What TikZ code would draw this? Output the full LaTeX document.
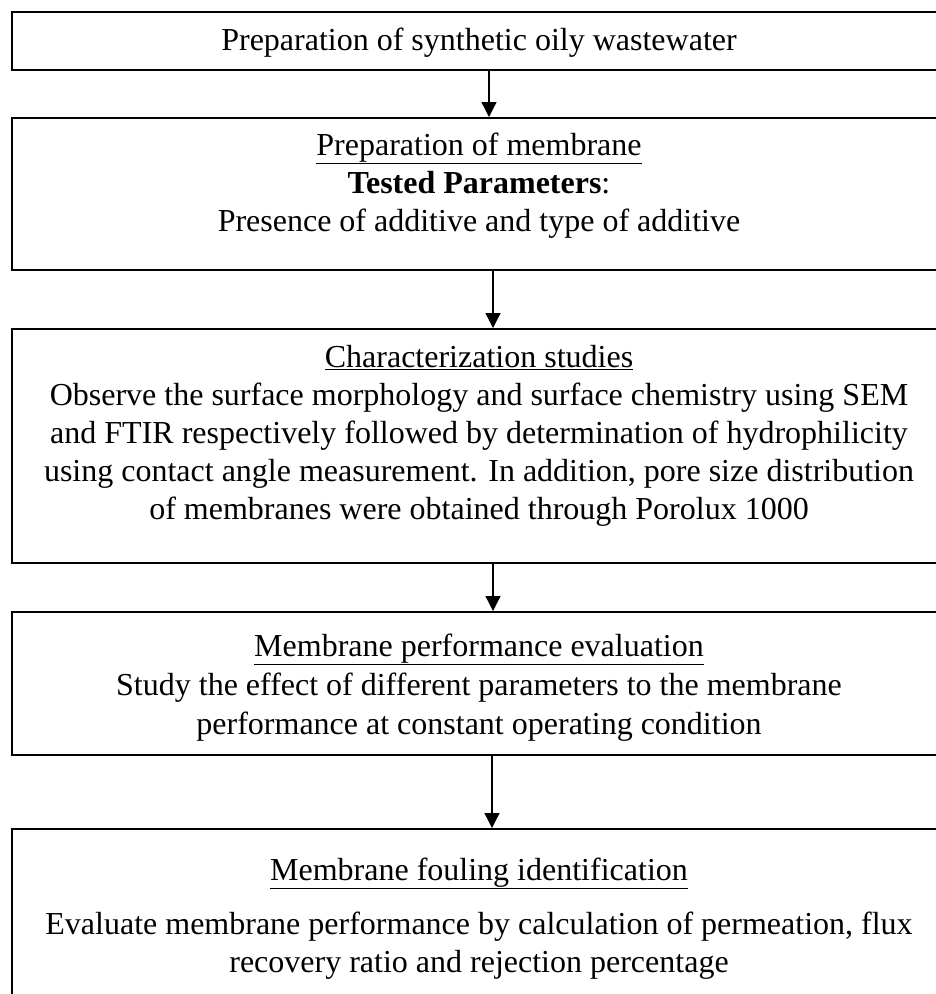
\documentclass[tikz,border=0pt]{standalone}
\usepackage{fontspec}
\setmainfont{Liberation Serif}
\usetikzlibrary{arrows.meta}
\begin{document}
\begin{tikzpicture}[x=1pt,y=1pt,
  box/.style={draw=black, line width=1.6pt, rectangle, anchor=north west, minimum width=949pt, inner sep=0pt},
  txt/.style={anchor=base, inner sep=0pt, font=\fontsize{32}{38}\selectfont},
  arr/.style={draw=black, line width=1.3pt, -{Triangle[length=15pt,width=15pt]}}]
\useasboundingbox (0,0) rectangle (936,-994);
\clip (0,0) rectangle (936,-994);
% boxes
\node[box, minimum height=58pt] (b1) at (11,-11) {};
\node[box, minimum height=152pt] (b2) at (11,-117) {};
\node[box, minimum height=234pt] (b3) at (11,-328) {};
\node[box, minimum height=143pt] (b4) at (11,-611) {};
\node[box, minimum height=200pt] (b5) at (11,-828) {};
% texts
\node[txt] (t1) at (479,-50) {Preparation of synthetic oily wastewater};
\node[txt] (t2a) at (479,-155) {\underline{Preparation of membrane}};
\node[txt] (t2b) at (479,-193) {\textbf{Tested Parameters}:};
\node[txt] (t2c) at (479,-231) {Presence of additive and type of additive};
\node[txt] (t3a) at (479,-367) {\underline{Characterization studies}};
\node[txt] (t3b) at (479,-405) {Observe the surface morphology and surface chemistry using SEM};
\node[txt] (t3c) at (479,-443) {and FTIR respectively followed by determination of hydrophilicity};
\node[txt] (t3d) at (479,-481) {using contact angle measurement. In addition, pore size distribution};
\node[txt] (t3e) at (479,-519) {of membranes were obtained through Porolux 1000};
\node[txt] (t4a) at (479,-656) {\underline{Membrane performance evaluation}};
\node[txt] (t4b) at (479,-695) {Study the effect of different parameters to the membrane};
\node[txt] (t4c) at (479,-734) {performance at constant operating condition};
\node[txt] (t5a) at (479,-880) {\underline{Membrane fouling identification}};
\node[txt] (t5b) at (479,-934) {Evaluate membrane performance by calculation of permeation, flux};
\node[txt] (t5c) at (479,-972) {recovery ratio and rejection percentage};
% arrow columns
\coordinate (x1) at (489,0);
\coordinate (x2) at (493,0);
\coordinate (x3) at (493,0);
\coordinate (x4) at (492,0);
\draw[arr] (b1.south -| x1) -- (b2.north -| x1);
\draw[arr] (b2.south -| x2) -- (b3.north -| x2);
\draw[arr] (b3.south -| x3) -- (b4.north -| x3);
\draw[arr] (b4.south -| x4) -- (b5.north -| x4);
\end{tikzpicture}
\end{document}
